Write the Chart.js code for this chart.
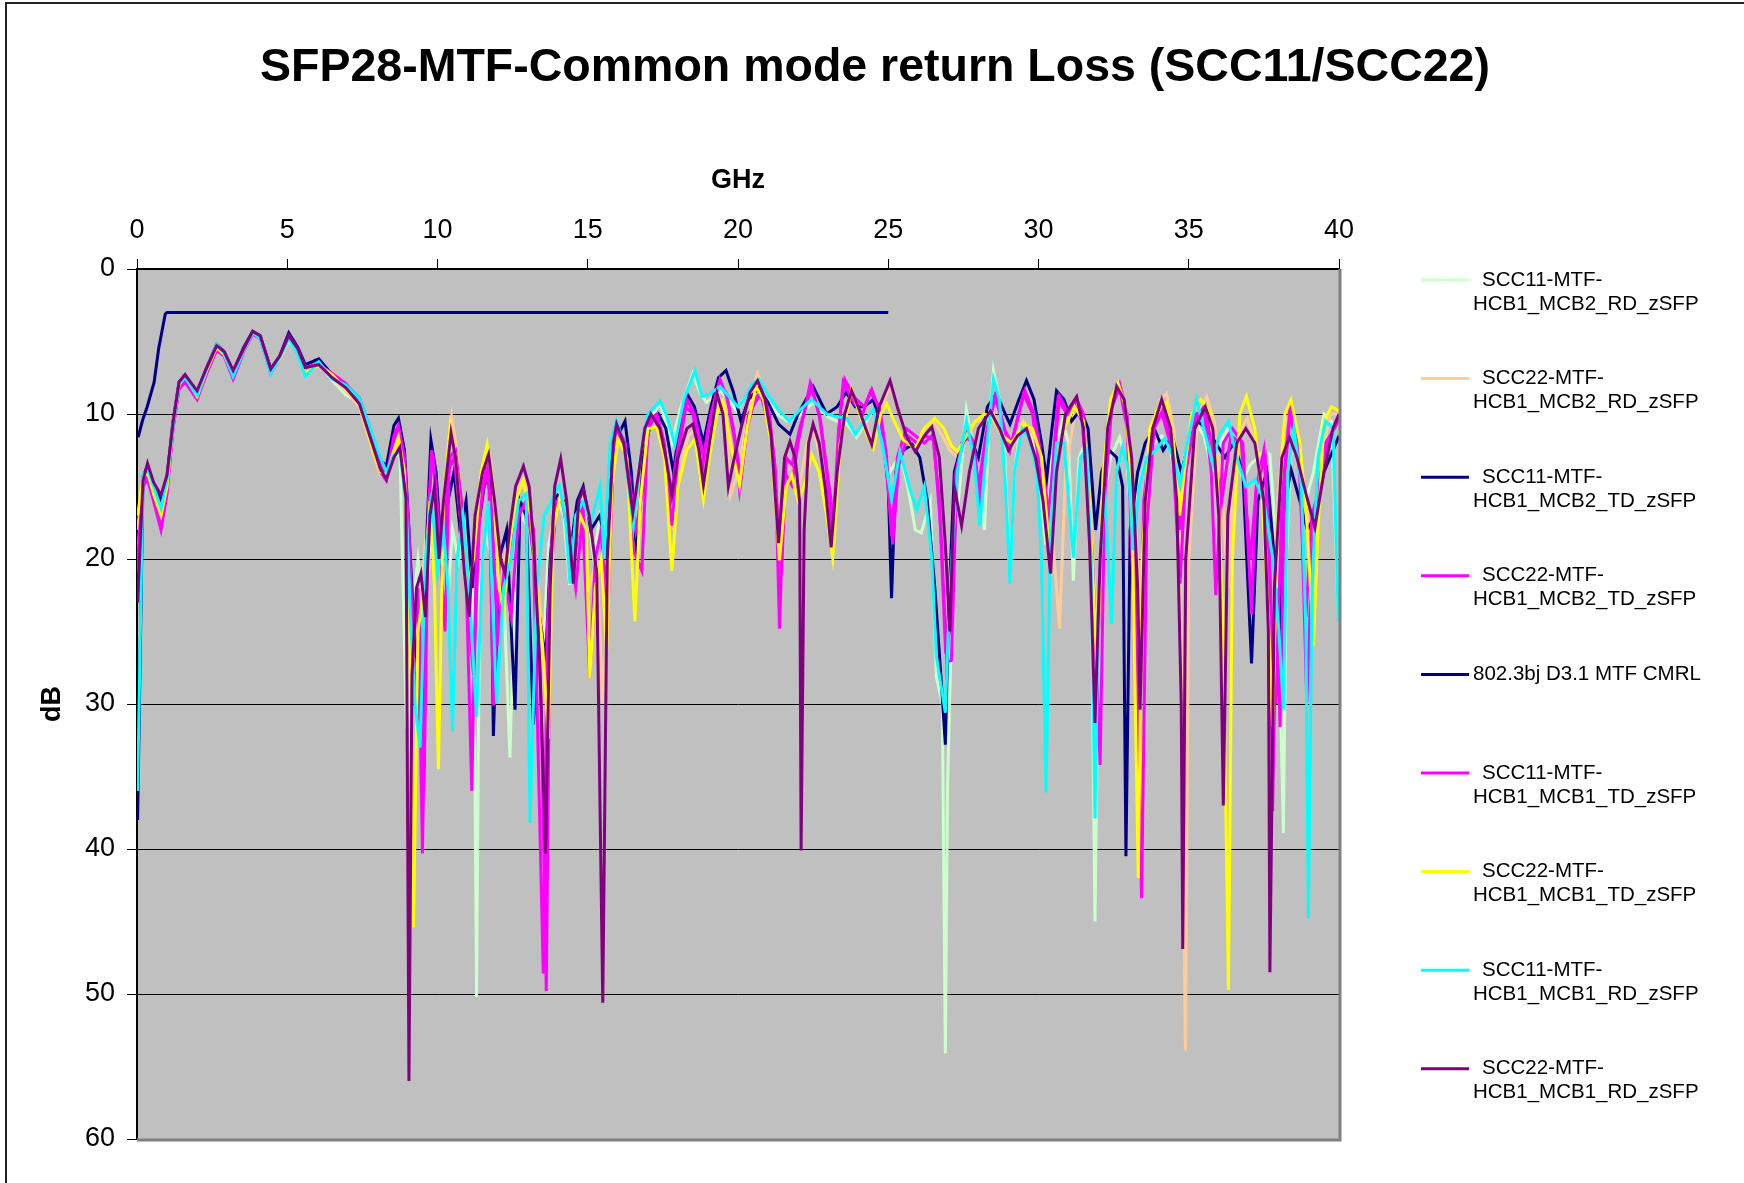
<!DOCTYPE html>
<html>
<head>
<meta charset="utf-8">
<script src="https://cdn.jsdelivr.net/npm/chart.js@4.4.1/dist/chart.umd.min.js"></script>
<style>
  html, body { margin: 0; padding: 0; background: #fff; }
  #chart { display: block; }
</style>
</head>
<body>
<canvas id="chart" width="1744" height="1183"></canvas>
<script>
// frecuencia (GHz), perdida de retorno (dB)
const scc11Mcb2Rd = [[0.02,20],[0.2,14.3],[0.35,13.9],[0.55,15.1],[0.8,16.4],[1.0,14.6],[1.2,10.8],[1.4,7.9],[1.6,7.4],[2.0,8.6],[2.3,7.0],[2.65,5.3],[2.9,5.8],[3.2,7.2],[3.55,5.5],[3.85,4.4],[4.1,4.7],[4.45,7.1],[4.75,6.2],[5.05,4.9],[5.35,5.8],[5.6,7.3],[6.05,6.5],[6.5,7.7],[6.95,8.7],[7.4,9.2],[7.85,11.8],[8.1,13.2],[8.3,14.1],[8.55,12.9],[8.75,12.8],[8.97,31.7],[9.15,24],[9.35,20],[9.6,25],[9.8,17],[9.9,16],[10.1,20],[10.3,24],[10.5,18],[10.7,20.1],[10.9,18],[11.05,24],[11.2,22],[11.3,50.2],[11.4,22],[11.6,18],[11.8,20],[12.0,26],[12.2,22],[12.41,33.7],[12.6,19],[12.8,17],[13.05,18],[13.3,21.7],[13.5,27],[13.7,19],[14.0,16],[14.2,17],[14.4,21.8],[14.6,18],[14.85,16],[15.05,17.5],[15.2,20],[15.4,17],[15.6,18],[15.8,12.5],[16.0,11],[16.25,12.5],[16.5,17],[16.75,13],[17.0,10.5],[17.4,9.3],[17.6,10.5],[17.8,12],[18.1,9.5],[18.5,7.2],[18.75,8.6],[18.95,9.2],[19.2,8.8],[19.4,8.4],[19.7,9],[19.95,9.8],[20.2,9],[20.6,7.8],[20.9,8.8],[21.3,10],[21.65,10.5],[22.0,10.2],[22.5,9.2],[23.0,10.2],[23.3,10.5],[23.6,10.6],[23.95,11.6],[24.25,10.6],[24.5,9.7],[24.8,11.5],[25.05,14],[25.4,12.8],[25.65,15],[25.9,18.0],[26.1,18.2],[26.4,16],[26.6,28.1],[26.8,30],[26.9,54.1],[26.97,36],[27.1,25],[27.25,18],[27.6,9.7],[27.85,12.5],[28.05,15],[28.2,18],[28.35,11],[28.5,7.0],[28.7,9],[28.85,11.5],[29.05,21.5],[29.2,14],[29.4,11],[29.7,11.2],[29.95,13],[30.1,16],[30.25,19],[30.45,13],[30.8,10.5],[31.0,12],[31.16,21.5],[31.35,13],[31.55,12],[31.75,20],[31.88,45],[32.0,24],[32.15,16],[32.4,13],[32.7,11.6],[32.95,13.5],[33.1,18],[33.3,15],[33.6,13],[33.85,12],[34.1,11.5],[34.4,12.5],[34.6,15],[34.85,13],[35.2,10.5],[35.5,11.5],[35.8,14],[36.05,12],[36.3,11],[36.55,12.5],[36.8,14.5],[37.05,13.5],[37.3,13],[37.5,12.5],[37.7,12.8],[37.95,20],[38.15,38.9],[38.25,20],[38.4,12.5],[38.65,13],[38.9,16],[39.15,14],[39.5,10],[39.75,10.5],[39.98,24]];

const scc22Mcb2Rd = [[0.02,18],[0.2,14.5],[0.35,14],[0.55,15.2],[0.8,16.8],[1.0,14.8],[1.2,10.7],[1.4,7.9],[1.6,7.4],[2.0,8.6],[2.3,7.0],[2.65,5.3],[2.9,5.8],[3.2,7.2],[3.55,5.5],[3.85,4.3],[4.1,4.6],[4.45,7.0],[4.75,6.1],[5.05,4.7],[5.35,5.6],[5.6,7.0],[6.05,6.7],[6.5,7.4],[6.95,8.4],[7.4,9.5],[7.85,12.6],[8.1,14.2],[8.3,14.4],[8.55,12.6],[8.7,11.8],[8.9,14.2],[9.05,20],[9.2,30],[9.35,24],[9.55,20],[9.75,15],[9.95,20],[10.15,17],[10.47,10.2],[10.65,12.5],[10.85,17],[11.05,21],[11.3,19],[11.55,14],[11.75,13],[11.95,17],[12.15,21],[12.4,18],[12.65,15],[12.9,14.5],[13.15,17.5],[13.4,23],[13.6,28],[13.8,18],[14.05,15],[14.3,17],[14.55,19],[14.8,16],[15.05,22],[15.3,20],[15.5,30],[15.7,22],[15.85,14],[16.05,11.5],[16.35,13],[16.6,20],[16.8,15],[17.05,10.5],[17.3,10.5],[17.6,12.5],[17.85,18],[18.05,14],[18.35,11.5],[18.6,11],[18.85,15.5],[19.1,12],[19.4,9],[19.6,9.5],[19.75,15.6],[20.0,14],[20.3,10.5],[20.65,7.2],[20.9,8.5],[21.15,11.5],[21.4,19],[21.6,14],[21.8,13.5],[22.05,15],[22.3,12],[22.5,11],[22.75,13],[23.0,16],[23.2,19],[23.4,12],[23.75,8.6],[24.0,9.5],[24.3,11],[24.5,12],[24.8,9.5],[25.05,8],[25.3,9.5],[25.6,11.5],[25.9,12.2],[26.2,11],[26.5,10.5],[26.8,11.5],[27.05,12.5],[27.3,13],[27.6,11.5],[27.9,10.5],[28.2,10.5],[28.5,10],[28.8,11.5],[29.1,12.5],[29.5,10.5],[29.85,11.5],[30.15,14],[30.45,18],[30.7,24.8],[30.9,14],[31.2,10],[31.5,10],[31.75,17],[31.95,25],[32.15,14],[32.4,9.5],[32.7,8.5],[32.95,10],[33.2,16],[33.4,25],[33.6,19.1],[33.8,12],[34.05,9],[34.26,8.6],[34.5,11],[34.7,16],[34.89,53.9],[35.0,20],[35.3,10],[35.6,8.8],[35.85,10.5],[36.1,15],[36.3,22],[36.5,14],[36.75,11],[36.95,10.3],[37.2,12],[37.45,15],[37.7,21],[37.9,18],[38.15,11],[38.4,9.8],[38.7,12.5],[38.95,17],[39.2,20],[39.45,13],[39.7,10],[40.0,10]];

const scc11Mcb2Td = [[0.02,38],[0.2,14.3],[0.35,13.6],[0.55,15],[0.8,16],[1.0,14.3],[1.2,10.5],[1.4,7.8],[1.6,7.3],[2.0,8.5],[2.3,6.9],[2.65,5.2],[2.9,5.7],[3.2,7.1],[3.55,5.4],[3.85,4.3],[4.1,4.6],[4.45,6.9],[4.75,6.0],[5.05,4.4],[5.35,5.4],[5.6,6.6],[6.05,6.2],[6.5,7.3],[6.95,8.0],[7.4,8.9],[7.85,11.6],[8.1,13.2],[8.3,13.6],[8.55,10.8],[8.7,10.3],[8.9,12.5],[9.05,18],[9.2,24],[9.35,28],[9.53,35.6],[9.65,18],[9.78,11.8],[9.95,14],[10.15,20],[10.35,16],[10.55,14],[10.75,18],[10.95,16],[11.15,22],[11.35,18],[11.55,15],[11.75,14],[11.86,32.2],[12.05,20],[12.3,18],[12.58,30.4],[12.75,16],[12.95,17],[13.19,31.4],[13.4,24],[13.6,27],[13.75,20],[13.95,15.5],[14.2,16],[14.45,19],[14.65,16],[14.85,15.0],[15.1,18],[15.4,17],[15.6,19],[15.8,13],[16.0,11.5],[16.24,10.5],[16.45,14],[16.63,19.8],[16.85,13],[17.1,10.5],[17.35,10],[17.6,11],[17.85,14],[18.05,11],[18.3,8.6],[18.55,9.5],[18.85,12],[19.1,9.5],[19.35,7.5],[19.6,7.0],[19.85,8.5],[20.1,10.5],[20.35,9],[20.7,8.2],[21.0,9.2],[21.35,10.7],[21.73,11.4],[22.0,10],[22.5,8.1],[22.95,10],[23.3,9.5],[23.6,8.5],[23.9,9.5],[24.2,9.5],[24.5,9],[24.8,11],[25.0,15],[25.11,22.7],[25.25,14],[25.5,12.5],[25.8,12.1],[26.05,13],[26.3,16],[26.55,22],[26.75,28],[26.9,32.8],[27.0,24],[27.2,14],[27.45,12],[27.7,11.5],[28.0,13],[28.3,9.5],[28.6,8.6],[28.85,9.8],[29.05,10.7],[29.35,9],[29.6,7.7],[29.85,9],[30.1,12],[30.27,14.5],[30.45,11],[30.6,8.4],[30.85,9],[31.1,10.5],[31.4,9.7],[31.65,11],[31.9,18],[32.1,14],[32.35,12.5],[32.6,13],[32.8,15],[32.91,40.5],[33.05,18],[33.3,14],[33.55,12],[33.85,11],[34.15,12.5],[34.45,11.5],[34.75,14],[35.0,12],[35.3,10.5],[35.6,11],[35.9,12],[36.2,13],[36.5,12],[36.8,14],[37.09,27.2],[37.3,16],[37.6,14],[37.85,20],[37.98,29.5],[38.15,17],[38.4,13.8],[38.7,16],[38.95,18],[39.2,17],[39.5,14],[39.8,12.5],[40.0,11.5]];

const scc22Mcb2Td = [[0.02,21],[0.2,14.8],[0.35,14.2],[0.55,15.8],[0.8,17.5],[1.0,15.2],[1.2,10.9],[1.4,8.1],[1.6,7.6],[2.0,8.9],[2.3,7.2],[2.65,5.5],[2.9,5.9],[3.2,7.5],[3.55,5.6],[3.85,4.4],[4.1,4.7],[4.45,7.0],[4.75,6.1],[5.05,4.6],[5.35,5.5],[5.6,6.8],[6.05,6.5],[6.5,7.3],[6.95,8.0],[7.4,9.2],[7.85,12.3],[8.1,14.0],[8.3,14.6],[8.55,11.8],[8.7,11.0],[8.9,13.5],[9.05,20],[9.25,30],[9.4,24],[9.55,36],[9.7,16],[9.85,12.8],[10.05,18],[10.25,25],[10.4,13],[10.6,12.5],[10.8,16],[11.0,23],[11.2,28],[11.4,17],[11.6,14],[11.8,16],[12.0,26],[12.2,21],[12.45,24],[12.7,17],[12.95,16],[13.2,18],[13.45,30],[13.62,49.8],[13.75,22],[13.95,16],[14.15,16],[14.4,19],[14.6,22],[14.85,16.5],[15.07,27.5],[15.3,21],[15.5,20],[15.7,22],[15.85,13],[16.05,11.5],[16.3,13],[16.6,18],[16.85,15],[17.05,10.5],[17.3,10],[17.55,12],[17.75,16],[17.95,13],[18.25,9.5],[18.5,10],[18.8,14],[19.0,11],[19.35,8],[19.6,8.5],[19.85,11],[20.1,14.5],[20.35,10],[20.75,8.6],[21.0,10.5],[21.2,13],[21.45,21],[21.6,13],[21.8,13.5],[22.05,11],[22.45,8.1],[22.75,10.5],[23.0,14.5],[23.2,17.5],[23.4,10],[23.5,7.8],[23.85,9.2],[24.15,10],[24.4,8.5],[24.7,9.5],[24.95,14],[25.15,19],[25.35,13.5],[25.65,11.5],[25.95,12],[26.25,11.5],[26.5,11.8],[26.7,16],[26.9,26],[27.05,25],[27.25,14],[27.55,11.5],[27.8,12],[28.0,15],[28.25,11.5],[28.55,8.8],[28.8,10.5],[29.05,12.5],[29.5,8.6],[29.8,10],[30.05,14],[30.3,18],[30.65,9],[30.95,10],[31.2,9.4],[31.45,10.5],[31.7,17],[31.95,28],[32.15,15],[32.45,9.5],[32.7,8.2],[32.95,11],[33.15,22],[33.35,35],[33.5,16],[33.8,11],[34.1,9.9],[34.45,12.5],[34.7,18],[34.95,13],[35.25,10],[35.55,9.7],[35.85,13],[36.1,16],[36.4,11.5],[36.75,12],[37.05,20],[37.25,15],[37.55,13],[37.75,24],[37.9,30],[38.1,16],[38.35,10],[38.65,12.5],[38.9,24],[39.1,17],[39.3,15.5],[39.55,12],[39.85,11],[40.0,10.2]];

const cmrlLimit = [[0.04,11.6],[0.19,10.4],[0.34,9.5],[0.57,7.8],[0.72,5.5],[0.94,3.1],[1.0,3.0],[25,3.0]];

const scc11Mcb1Td = [[0.02,20],[0.2,15],[0.35,14.5],[0.55,16],[0.8,18],[1.0,15.5],[1.2,11],[1.4,8.3],[1.6,7.8],[2.0,9.0],[2.3,7.3],[2.65,5.6],[2.9,6.0],[3.2,7.6],[3.55,5.7],[3.85,4.5],[4.1,4.8],[4.45,7.2],[4.75,6.2],[5.05,4.7],[5.35,5.6],[5.6,6.9],[6.05,6.6],[6.5,7.2],[6.95,7.9],[7.4,9.0],[7.85,12.0],[8.1,13.5],[8.3,14.4],[8.55,11.5],[8.7,10.8],[8.9,13],[9.05,18],[9.2,26],[9.35,22],[9.5,40.3],[9.65,20],[9.8,12.5],[9.95,15],[10.15,21],[10.35,14],[10.55,13],[10.75,17],[10.95,21],[11.14,36],[11.3,19],[11.5,15],[11.7,13.4],[11.86,30.1],[12.05,20],[12.3,21],[12.55,18],[12.8,16.5],[13.0,16.5],[13.2,20],[13.52,48.6],[13.65,25],[13.85,17],[14.1,15.5],[14.3,17],[14.55,20],[14.8,16],[15.07,28.2],[15.25,20],[15.45,18],[15.6,24.6],[15.8,14],[16.0,11],[16.25,12],[16.52,19.4],[16.8,20.8],[17.0,11],[17.25,10.2],[17.5,12],[17.8,17.7],[18.0,13],[18.3,9.0],[18.55,10],[18.85,13.0],[19.1,10],[19.4,7.6],[19.65,9],[19.9,12],[20.05,15.2],[20.3,11],[20.55,9],[20.8,8.4],[21.05,10],[21.25,14],[21.38,24.8],[21.55,14],[21.79,14.9],[22.0,12],[22.4,7.9],[22.7,10],[22.95,14],[23.15,18.4],[23.35,11],[23.55,7.6],[23.9,8.9],[24.2,9.5],[24.45,8.3],[24.75,10],[24.95,13],[25.11,18.4],[25.3,13],[25.6,11],[25.9,11.5],[26.2,12],[26.5,11.4],[26.75,18],[26.95,27.1],[27.1,27],[27.3,13.5],[27.6,11],[27.85,12],[28.05,15.9],[28.3,11],[28.6,8.6],[28.85,11],[29.1,12],[29.55,8.4],[29.85,10],[30.1,13],[30.35,17],[30.7,8.8],[31.0,10],[31.27,9.0],[31.5,10],[31.8,20],[32.05,34.2],[32.2,16],[32.45,9],[32.7,7.9],[32.95,10],[33.2,20],[33.43,43.4],[33.6,18],[33.85,11],[34.15,9.7],[34.45,12],[34.71,21.7],[34.9,14],[35.2,10.5],[35.5,9.5],[35.75,14],[35.9,22.5],[36.15,12],[36.45,11],[36.8,12],[37.09,23.8],[37.25,15],[37.5,12.5],[37.7,20],[37.79,37.4],[37.92,22],[38.04,31.6],[38.2,14],[38.4,9.5],[38.7,13],[38.93,29.9],[39.1,20],[39.26,15.7],[39.5,13],[39.8,11],[40.0,10.5]];

const scc22Mcb1Td = [[0.02,17],[0.2,14.4],[0.35,14],[0.55,15.5],[0.8,17],[1.0,15],[1.2,10.7],[1.4,8.0],[1.6,7.4],[2.0,8.8],[2.3,7.1],[2.65,5.4],[2.9,5.9],[3.2,7.3],[3.55,5.6],[3.85,4.4],[4.1,4.7],[4.45,7.1],[4.75,6.2],[5.05,4.8],[5.35,5.7],[5.6,7.1],[6.05,6.6],[6.5,7.3],[6.95,8.3],[7.4,9.3],[7.85,12.5],[8.1,14.0],[8.3,14.2],[8.55,12.5],[8.7,11.6],[8.9,14],[9.05,22],[9.2,45.4],[9.35,25],[9.55,22],[9.75,16],[9.9,22],[10.03,34.5],[10.2,16],[10.42,10.8],[10.6,13],[10.8,18],[11.0,22],[11.2,20],[11.45,14],[11.65,12.1],[11.85,15],[12.05,22],[12.2,23.6],[12.4,19],[12.6,16],[12.85,14.6],[13.1,17],[13.3,22],[13.5,26],[13.69,32.4],[13.85,18],[14.1,15.5],[14.3,17],[14.5,20],[14.75,17],[14.95,18],[15.07,28.2],[15.25,22],[15.45,20],[15.63,26.3],[15.8,15],[16.0,11.7],[16.3,13],[16.57,24.3],[16.75,16],[17.0,11],[17.3,10.9],[17.55,13],[17.8,20.8],[18.0,15],[18.3,12.5],[18.57,11.7],[18.85,15.9],[19.05,13],[19.3,10],[19.5,9.1],[19.75,12],[20.05,14.9],[20.3,11],[20.6,8.1],[20.85,9],[21.1,12],[21.38,20.1],[21.6,15],[21.79,14.2],[22.0,16],[22.2,15],[22.45,12.8],[22.7,14],[22.95,17],[23.15,19.9],[23.4,12],[23.78,8.3],[24.05,10],[24.3,11.5],[24.5,12.4],[24.75,10],[24.95,9.3],[25.2,10.5],[25.5,11.8],[25.9,12.4],[26.2,11],[26.55,10.3],[26.85,11],[27.1,12.2],[27.3,12.6],[27.6,11.5],[27.9,10.5],[28.2,10],[28.45,10.2],[28.8,11.5],[29.1,12],[29.5,10.7],[29.8,11],[30.1,13],[30.35,19],[30.55,14],[30.85,11],[31.2,9.5],[31.5,10.5],[31.7,16],[31.95,27.8],[32.15,14],[32.4,9],[32.65,7.9],[32.9,9.5],[33.1,15],[33.32,42],[33.45,20],[33.7,11],[34.0,9.5],[34.25,9.2],[34.5,12],[34.7,17],[34.85,14],[35.1,10],[35.4,9],[35.7,9.8],[35.95,14],[36.15,25],[36.32,49.7],[36.45,20],[36.7,10],[36.92,8.8],[37.2,11],[37.45,16],[37.65,24],[37.79,31.6],[37.95,18],[38.2,10],[38.4,9],[38.7,12],[38.95,18],[39.15,26],[39.3,18],[39.5,10.5],[39.75,9.5],[40.0,9.8]];

const scc11Mcb1Rd = [[0.02,36],[0.2,14.2],[0.35,13.8],[0.55,15],[0.8,16.5],[1.0,14.5],[1.2,10.8],[1.4,7.9],[1.6,7.5],[2.0,8.7],[2.3,7.0],[2.65,5.2],[2.9,5.8],[3.2,7.4],[3.55,5.6],[3.85,4.4],[4.1,4.8],[4.45,7.2],[4.75,6.1],[5.05,4.8],[5.35,5.9],[5.6,7.4],[6.05,6.4],[6.5,7.6],[6.95,8.0],[7.4,8.9],[7.85,11.5],[8.1,13.0],[8.3,14.0],[8.55,12.8],[8.75,12.6],[8.95,16],[9.1,24],[9.25,30],[9.42,33],[9.6,20],[9.8,15.5],[10.0,21],[10.2,18],[10.35,22],[10.5,31.9],[10.65,20],[10.85,17],[11.05,22],[11.3,30.9],[11.5,20],[11.7,16],[11.97,30],[12.2,22],[12.45,20],[12.7,16],[12.95,15.5],[13.08,38.2],[13.3,22],[13.55,17],[13.8,16],[14.05,14.9],[14.25,17],[14.41,21.7],[14.6,17],[14.85,16],[15.1,17.5],[15.41,15.0],[15.55,20],[15.75,12],[15.96,10.5],[16.2,12],[16.52,17.7],[16.75,13],[17.0,10],[17.41,9.1],[17.6,10],[17.9,12.1],[18.2,9],[18.57,7.0],[18.8,8.8],[19.07,8.6],[19.4,8.1],[19.7,8.8],[20.0,9.5],[20.18,9.1],[20.45,8.0],[20.7,7.6],[21.0,8.7],[21.35,9.7],[21.7,10.5],[22.07,9.7],[22.45,9.0],[22.95,10],[23.3,10.2],[23.62,10.3],[23.9,11.4],[24.2,10.5],[24.5,9.7],[24.8,12],[25.11,15.9],[25.39,12.6],[25.7,15],[25.95,16.6],[26.2,15],[26.45,20],[26.6,26.7],[26.9,30.6],[27.05,22],[27.3,14],[27.6,10.5],[27.85,13],[28.05,17.7],[28.2,14],[28.5,7.6],[28.7,9],[28.9,15],[29.05,21.7],[29.2,14],[29.45,11],[29.7,11.7],[29.95,14],[30.1,20],[30.25,36.1],[30.4,18],[30.6,12],[30.85,12],[31.16,19.9],[31.4,13],[31.6,12.4],[31.75,20],[31.88,37.9],[32.0,22],[32.2,15],[32.43,24.5],[32.6,14],[32.8,12.3],[33.0,14],[33.15,19.4],[33.35,15],[33.6,13],[33.9,12.5],[34.2,11.7],[34.5,13],[34.71,14.9],[34.95,12],[35.26,9.0],[35.5,11],[35.8,13.5],[36.0,11.5],[36.32,10.5],[36.6,13],[36.9,15],[37.2,14.5],[37.5,16],[37.8,20],[38.0,25],[38.15,30.4],[38.3,14],[38.5,11],[38.75,15],[38.9,25],[38.98,44.8],[39.1,22],[39.3,13],[39.55,10.5],[39.8,11],[39.98,24.3]];

const scc22Mcb1Rd = [[0.02,23],[0.2,14.6],[0.35,13.4],[0.55,14.7],[0.8,15.6],[1.0,14.2],[1.2,10.6],[1.4,7.8],[1.6,7.3],[2.0,8.4],[2.3,6.9],[2.65,5.3],[2.9,5.7],[3.2,7.0],[3.55,5.5],[3.85,4.3],[4.1,4.6],[4.45,6.9],[4.75,6.0],[5.05,4.6],[5.35,5.5],[5.6,6.8],[6.05,6.6],[6.5,7.5],[6.95,8.2],[7.4,9.3],[7.85,12.2],[8.1,13.8],[8.3,14.5],[8.55,13.0],[8.75,12.3],[8.95,15.8],[9.05,56],[9.15,28],[9.3,22],[9.45,21],[9.6,24],[9.75,17],[9.9,15],[10.05,20],[10.2,16],[10.45,11.3],[10.6,13],[10.75,17],[10.9,21],[11.05,24],[11.25,17],[11.5,14],[11.7,12.8],[11.9,16],[12.1,20],[12.25,21],[12.4,18],[12.6,15],[12.86,13.6],[13.05,15],[13.2,19],[13.4,27],[13.6,40.3],[13.75,22],[13.9,15],[14.1,13.1],[14.3,16],[14.52,21.7],[14.7,16],[14.85,15.2],[15.05,17],[15.3,21],[15.5,50.6],[15.65,20],[15.85,12],[15.96,10.7],[16.2,12],[16.5,16.8],[16.7,14],[16.9,11],[17.1,10],[17.4,11],[17.6,13],[17.8,15.6],[18.0,13],[18.3,11],[18.5,10.7],[18.7,12.5],[18.85,14.9],[19.05,12],[19.3,8.6],[19.5,10],[19.68,15.0],[19.9,12.8],[20.1,11],[20.4,8.5],[20.65,7.7],[20.9,9],[21.1,11.5],[21.35,18.9],[21.55,13],[21.73,11.9],[21.9,13],[22.05,16],[22.1,40.1],[22.2,18],[22.35,12],[22.5,10.7],[22.7,12],[22.9,15],[23.1,19.2],[23.3,14],[23.55,10],[23.78,8.4],[24.0,9.5],[24.25,11],[24.45,12.1],[24.7,9.5],[25.06,7.7],[25.3,9.5],[25.6,11.5],[25.9,12.6],[26.2,11.5],[26.45,10.9],[26.7,13],[26.9,19],[27.05,25],[27.2,15],[27.44,17.7],[27.7,14],[28.0,11],[28.4,9.8],[28.7,11],[29.0,12.5],[29.3,11.5],[29.6,11],[29.9,13],[30.15,16],[30.4,21],[30.6,14],[30.9,10],[31.27,8.8],[31.5,11],[31.7,19],[31.88,31.3],[32.05,20],[32.3,11],[32.6,8.1],[32.85,9],[33.1,13],[33.3,22],[33.38,30.4],[33.55,16],[33.8,11],[34.1,9.0],[34.4,11],[34.6,16],[34.75,30],[34.8,46.9],[34.9,20],[35.2,11],[35.55,9.5],[35.8,11],[36.0,17],[36.15,37],[36.3,17],[36.6,12],[36.9,11],[37.2,12],[37.5,16],[37.65,25],[37.7,48.5],[37.85,22],[38.1,13],[38.35,11.6],[38.6,13],[38.9,15.5],[39.2,17.8],[39.5,14],[39.8,11],[40.0,10]];

const series = [scc11Mcb2Rd, scc22Mcb2Rd, scc11Mcb2Td, scc22Mcb2Td, cmrlLimit, scc11Mcb1Td, scc22Mcb1Td, scc11Mcb1Rd, scc22Mcb1Rd];
const names = [
  ["SCC11-MTF-", "HCB1_MCB2_RD_zSFP"],
  ["SCC22-MTF-", "HCB1_MCB2_RD_zSFP"],
  ["SCC11-MTF-", "HCB1_MCB2_TD_zSFP"],
  ["SCC22-MTF-", "HCB1_MCB2_TD_zSFP"],
  ["802.3bj D3.1 MTF CMRL"],
  ["SCC11-MTF-", "HCB1_MCB1_TD_zSFP"],
  ["SCC22-MTF-", "HCB1_MCB1_TD_zSFP"],
  ["SCC11-MTF-", "HCB1_MCB1_RD_zSFP"],
  ["SCC22-MTF-", "HCB1_MCB1_RD_zSFP"]
];
const colors = ["#CCFFCC", "#FFCC99", "#000080", "#FF00FF", "#000080", "#FF00FF", "#FFFF00", "#00FFFF", "#800080"];

const FONT = "'Liberation Sans', Arial, sans-serif";

const datasets = series.map((s, i) => ({
  label: names[i].join(""),
  data: s.map(p => ({ x: p[0], y: p[1] })),
  borderColor: colors[i],
  backgroundColor: colors[i],
  borderWidth: 3,
  pointRadius: 0,
  tension: 0,
  fill: false,
  order: series.length - i // la ultima serie queda encima, como en Excel
}));

const decor = {
  id: "decor",
  beforeDraw(chart) {
    const { ctx, chartArea: a } = chart;
    ctx.save();
    ctx.fillStyle = "#fff";
    ctx.fillRect(0, 0, chart.width, chart.height);
    ctx.fillStyle = "#C0C0C0";
    ctx.fillRect(a.left, a.top, a.right - a.left, a.bottom - a.top);
    ctx.restore();
  },
  afterDraw(chart) {
    const { ctx, chartArea: a } = chart;
    ctx.save();
    // borde gris del area de trazado
    ctx.strokeStyle = "#808080";
    ctx.lineWidth = 3;
    ctx.beginPath();
    ctx.moveTo(a.right + 1, a.top);
    ctx.lineTo(a.right + 1, a.bottom + 1);
    ctx.lineTo(a.left, a.bottom + 1);
    ctx.stroke();

    // marco exterior
    ctx.strokeStyle = "#222";
    ctx.lineWidth = 2;
    ctx.beginPath();
    ctx.moveTo(6, chart.height);
    ctx.lineTo(6, 3);
    ctx.lineTo(chart.width, 3);
    ctx.stroke();

    ctx.fillStyle = "#000";
    ctx.textAlign = "center";
    ctx.textBaseline = "middle";
    ctx.font = "bold 46.5px " + FONT;
    ctx.fillText("SFP28-MTF-Common mode return Loss (SCC11/SCC22)", 875, 68);

    ctx.font = "bold 27px " + FONT;
    ctx.fillText("GHz", (a.left + a.right) / 2, 181);
    ctx.save();
    ctx.translate(53, (a.top + a.bottom) / 2);
    ctx.rotate(-Math.PI / 2);
    ctx.fillText("dB", 0, 0);
    ctx.restore();

    // leyenda
    ctx.textAlign = "left";
    ctx.font = "20.5px " + FONT;
    names.forEach((n, i) => {
      const y = 280 + i * 98.6;
      ctx.strokeStyle = colors[i];
      ctx.lineWidth = 3;
      ctx.beginPath();
      ctx.moveTo(1421, y);
      ctx.lineTo(1469, y);
      ctx.stroke();
      ctx.fillStyle = "#000";
      if (n.length === 1) {
        ctx.fillText(n[0], 1473, y);
      } else {
        ctx.fillText(n[0], 1482, y);
        ctx.fillText(n[1], 1473, y + 24);
      }
    });
    ctx.restore();
  }
};

new Chart(document.getElementById("chart"), {
  type: "line",
  data: { datasets: datasets },
  plugins: [decor],
  options: {
    responsive: false,
    animation: false,
    layout: { padding: { left: 17, top: 169, right: 405, bottom: 44 } },
    plugins: { legend: { display: false }, title: { display: false }, tooltip: { enabled: false } },
    scales: {
      x: {
        type: "linear",
        position: "top",
        min: 0,
        max: 40,
        afterFit: (s) => { s.height = 100; },
        ticks: { stepSize: 5, color: "#000", padding: 12, font: { family: FONT, size: 27 } },
        grid: { drawOnChartArea: false, drawTicks: true, tickLength: 10, color: "#000" },
        border: { display: true, color: "#000", width: 2 }
      },
      y: {
        type: "linear",
        reverse: true,
        min: 0,
        max: 60,
        afterFit: (s) => { s.width = 120; },
        ticks: { stepSize: 10, color: "#000", padding: 12, font: { family: FONT, size: 27 } },
        grid: { drawTicks: true, tickLength: 10, color: "#000", lineWidth: 1 },
        border: { display: true, color: "#000", width: 2 }
      }
    }
  }
});
</script>
</body>
</html>
